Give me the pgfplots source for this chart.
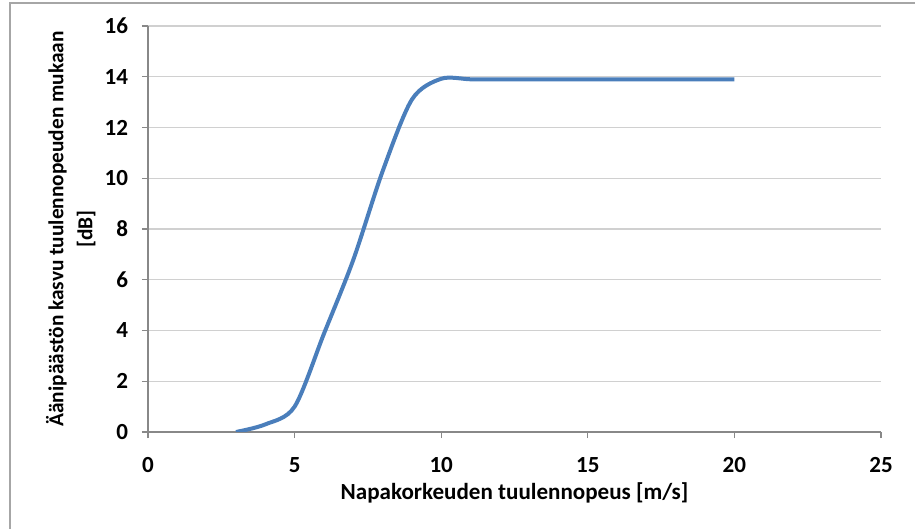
\documentclass[border=0pt]{standalone}
\usepackage{pgfplots}
\pgfplotsset{compat=1.18}
\usepackage{fontspec}
\setmainfont{Carlito}
\definecolor{excelblue}{HTML}{4A7EBB}
\definecolor{gridgray}{HTML}{D0D0D0}
\definecolor{axisgray}{HTML}{888888}
\definecolor{framegray}{HTML}{A6A6A6}
\begin{document}
\begin{tikzpicture}[x=0.75bp,y=0.75bp]
    % page = 915 x 529 px
    \path[use as bounding box] (0,0) rectangle (915,529);
    \draw[framegray, line width=1.2bp] (10,-5) -- (10,526) -- (920,526);
    \begin{axis}[
        at={(111bp,72.75bp)}, anchor=south west,
        scale only axis,
        width=549.75bp, height=304.5bp,
        xmin=0, xmax=25,
        ymin=0, ymax=16,
        xtick={0,5,...,25},
        ytick={0,2,...,16},
        axis lines*=left,
        axis line style={axisgray, line width=0.9bp},
        tick style={axisgray, line width=0.9bp},
        tick align=outside,
        major tick length=4.5bp,
        ymajorgrids=true,
        grid style={gridgray, line width=0.9bp},
        font=\fontsize{17.3bp}{20bp}\selectfont\bfseries,
        /pgf/number format/assume math mode=true,
        xticklabel style={yshift=-11bp},
        yticklabel style={xshift=-7bp},
        xlabel={Napakorkeuden tuulennopeus [m/s]},
        xlabel style={at={(axis description cs:0.5,-0.15)}, anchor=center},
        ylabel={Äänipäästön kasvu tuulennopeuden mukaan\\{}[dB]},
        ylabel style={at={(axis description cs:-0.1055,0.5)}, anchor=center,
            rotate=0, align=center, font=\fontsize{16bp}{21.75bp}\selectfont\bfseries},
    ]
    \addplot[excelblue, line width=3bp, smooth, tension=0.5] coordinates {
        (3,0) (4,0.3) (5,1.0) (6,3.87) (7,6.78) (8,10.27) (9,13.1)
        (10,13.92) (11,13.9) (12,13.9) (13,13.9) (14,13.9) (15,13.9)
        (16,13.9) (17,13.9) (18,13.9) (19,13.9) (20,13.9)
    };
    \end{axis}
\end{tikzpicture}
\end{document}
